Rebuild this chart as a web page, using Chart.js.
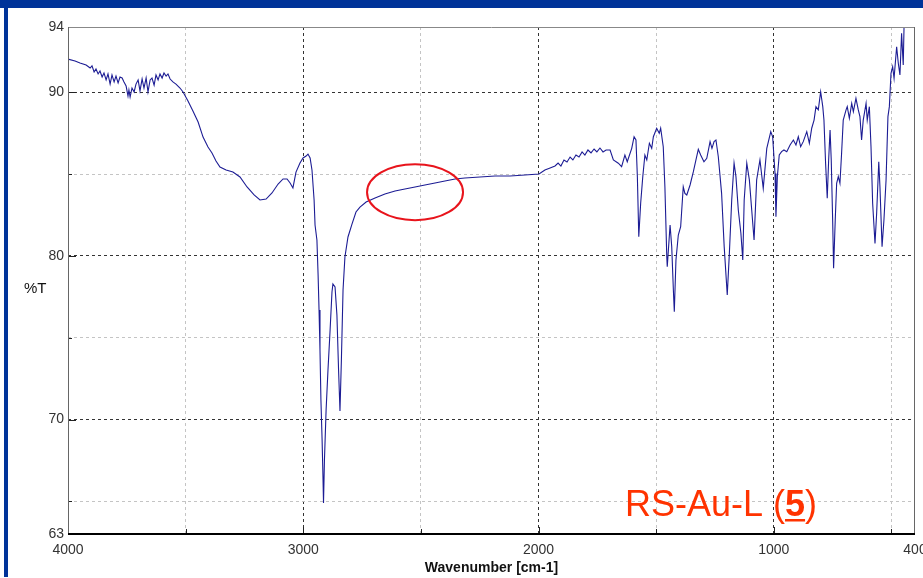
<!DOCTYPE html>
<html><head><meta charset="utf-8">
<script src="https://cdn.jsdelivr.net/npm/chart.js@4.4.0/dist/chart.umd.min.js"></script>
<style>html,body{margin:0;padding:0;background:#fff;overflow:hidden}canvas{display:block}</style>
</head><body>
<canvas id="c" width="923" height="578" style="width:923px;height:578px"></canvas>
<script>
const wavenumbers = [4000,3970,3949,3923,3906,3898,3889,3881,3872,3864,3855,3847,3838,3830,3821,3813,3804,3796,3787,3779,3770,3762,3753,3745,3741,3736,3728,3719,3711,3702,3694,3685,3677,3668,3660,3651,3643,3634,3626,3617,3609,3600,3592,3583,3575,3566,3554,3541,3524,3511,3490,3469,3447,3426,3405,3388,3371,3354,3328,3299,3269,3239,3209,3184,3158,3133,3107,3086,3069,3056,3044,3031,3014,3001,2988,2980,2971,2963,2954,2950,2942,2937,2933,2929,2925,2920,2916,2914,2910,2903,2895,2886,2878,2874,2865,2857,2850,2844,2838,2831,2823,2810,2793,2776,2759,2733,2695,2653,2610,2568,2525,2483,2440,2398,2355,2313,2249,2185,2121,2058,1998,1973,1951,1930,1917,1905,1892,1879,1866,1854,1841,1828,1815,1803,1790,1777,1764,1752,1739,1726,1713,1696,1682,1661,1647,1633,1623,1604,1594,1586,1580,1574,1566,1557,1548,1540,1529,1519,1512,1498,1487,1481,1470,1463,1455,1453,1441,1434,1427,1423,1416,1406,1396,1385,1378,1370,1356,1342,1331,1321,1311,1297,1285,1271,1263,1254,1246,1236,1222,1211,1198,1189,1179,1169,1161,1151,1140,1132,1126,1115,1104,1094,1084,1073,1059,1045,1030,1013,1005,995,991,985,977,967,957,945,931,917,906,896,886,875,860,849,839,829,821,811,801,792,787,780,773,767,761,756,750,746,739,733,726,719,712,705,693,688,679,669,662,651,641,634,627,620,608,603,594,587,580,570,563,554,549,540,532,523,515,509,502,495,489,478,471,464,457,450,446,434,400];
const transmittance = [92.04,91.92,91.80,91.68,91.49,91.62,91.25,91.43,91.13,91.31,90.94,91.19,90.76,91.13,90.51,91.07,90.64,91.00,90.58,90.94,90.88,90.64,90.39,89.78,90.15,89.72,90.27,90.03,90.51,90.76,90.09,90.82,90.27,90.88,90.03,90.76,90.88,90.45,91.07,90.76,91.13,90.88,91.19,91.00,91.13,90.82,90.64,90.51,90.27,90.03,89.48,88.86,88.19,87.27,86.66,86.30,85.81,85.44,85.26,85.13,84.83,84.22,83.73,83.42,83.48,83.85,84.40,84.71,84.71,84.46,84.16,85.13,85.68,85.99,86.11,86.23,85.99,85.26,83.42,81.89,80.98,78.84,76.70,74.25,71.19,68.75,66.30,64.90,67.52,70.58,73.03,75.47,77.80,78.29,78.10,76.39,73.03,70.52,73.64,77.92,79.94,81.16,81.95,82.69,82.99,83.30,83.54,83.79,83.97,84.09,84.22,84.34,84.46,84.58,84.71,84.77,84.83,84.89,84.89,84.95,85.01,85.26,85.38,85.50,85.68,85.50,85.87,85.75,86.05,85.87,86.17,86.05,86.36,86.17,86.48,86.30,86.54,86.36,86.60,86.36,86.48,86.48,85.87,85.67,85.46,86.17,85.76,86.58,87.29,87.09,84.85,81.18,83.22,84.85,86.17,85.87,86.89,86.58,87.29,87.81,87.50,87.81,86.68,84.23,79.95,79.34,81.89,80.57,77.92,76.59,79.75,81.28,81.79,84.23,83.83,83.73,84.34,85.15,85.87,86.52,86.17,85.76,85.97,86.99,86.58,86.99,87.09,86.07,83.83,80.57,77.61,80.16,83.42,85.67,84.85,82.81,81.39,79.75,83.42,85.67,84.65,82.81,80.98,84.65,85.87,84.14,86.58,87.60,87.29,85.05,82.40,84.85,86.17,86.38,86.48,86.38,86.79,87.09,86.79,87.29,86.68,86.99,87.60,86.89,87.81,88.31,89.13,88.93,90.04,89.13,88.31,85.67,83.53,85.87,87.70,85.87,82.20,79.25,82.20,84.44,84.85,84.44,86.28,88.31,88.93,89.13,88.42,89.33,88.82,89.64,88.93,88.52,87.09,88.31,89.33,88.31,89.13,86.68,83.22,80.77,82.61,85.76,84.23,80.57,82.20,84.65,88.52,89.13,91.17,91.57,90.86,92.79,91.78,91.07,93.61,91.68,94.43,95.65,96.90];

const xTickValues = [4000,3500,3000,2500,2000,1500,1000,500,400];
const xTickLabels = [4000,3000,2000,1000,400];
const xMajorGrid = [3000,2000,1000];
const yTickValues = [63,65,70,75,80,85,90,94];
const yTickLabels = [63,70,80,90,94];
const yMajorGrid = [70,80,90];
const xTitle = 'Wavenumber [cm-1]';
const yTitle = '%T';
const sampleName = ['RS-Au-L (', '5', ')'];

const tickFont = {family:"'Liberation Sans',Arial,sans-serif", size:14};
const points = wavenumbers.map((w,i)=>({x:w, y:transmittance[i]}));

function gridColor(v, major, edges){
  if (edges.includes(v)) return 'rgba(0,0,0,0)';
  return major.includes(v) ? '#333333' : '#c4c4c4';
}

const decor = {
  id:'decor',
  beforeDraw(chart){
    const c = chart.ctx;
    c.save();
    c.fillStyle = '#ffffff';
    c.fillRect(0,0,chart.width,chart.height);
    c.fillStyle = 'rgb(0,51,153)';
    c.fillRect(0,0,chart.width,8);
    c.fillRect(4,0,4,chart.height-1);
    c.restore();
  },
  afterDatasetsDraw(chart){
    const c = chart.ctx, a = chart.chartArea;
    const xs = chart.scales.x, ys = chart.scales.y;
    c.save();
    c.strokeStyle = '#222'; c.lineWidth = 1;
    xTickValues.forEach(v=>{
      if (v===4000||v===400) return;
      const px = Math.round(xs.getPixelForValue(v))+0.5;
      const len = xMajorGrid.includes(v)?7:5;
      c.beginPath(); c.moveTo(px,a.bottom); c.lineTo(px,a.bottom-len); c.stroke();
    });
    yTickValues.forEach(v=>{
      if (v===63||v===94) return;
      const py = Math.round(ys.getPixelForValue(v))+0.5;
      const len = yMajorGrid.includes(v)?8:4;
      c.beginPath(); c.moveTo(a.left,py); c.lineTo(a.left+len,py); c.stroke();
    });
    c.lineWidth = 1;
    c.strokeStyle = '#888';
    c.beginPath(); c.moveTo(a.left, a.top+0.5); c.lineTo(a.right, a.top+0.5); c.stroke();
    c.strokeStyle = '#666';
    c.beginPath(); c.moveTo(a.left+0.5, a.top); c.lineTo(a.left+0.5, a.bottom); c.stroke();
    c.beginPath(); c.moveTo(a.right-0.5, a.top); c.lineTo(a.right-0.5, a.bottom); c.stroke();
    c.strokeStyle = '#000'; c.lineWidth = 2;
    c.beginPath(); c.moveTo(a.left, a.bottom); c.lineTo(a.right, a.bottom); c.stroke();
    c.restore();
  },
  afterDraw(chart){
    const c = chart.ctx;
    const xs = chart.scales.x, ys = chart.scales.y;
    c.save();
    c.fillStyle = '#111';
    c.font = "15px 'Liberation Sans', Arial, sans-serif";
    c.textAlign = 'left'; c.textBaseline = 'middle';
    c.fillText(yTitle, 24, 289);
    c.strokeStyle = '#e8141c'; c.lineWidth = 2;
    c.beginPath();
    c.ellipse(xs.getPixelForValue(2525), ys.getPixelForValue(83.9), 48, 28, 0, 0, Math.PI*2);
    c.stroke();
    c.fillStyle = '#ff3300';
    c.textBaseline = 'alphabetic';
    let x = 625; const y = 516;
    c.font = "36px 'Liberation Sans', Arial, sans-serif";
    c.fillText(sampleName[0], x, y); x += c.measureText(sampleName[0]).width;
    c.font = "bold 36px 'Liberation Sans', Arial, sans-serif";
    c.fillText(sampleName[1], x, y);
    const w5 = c.measureText(sampleName[1]).width;
    c.fillRect(x, y+3, w5, 2.5);
    x += w5;
    c.font = "36px 'Liberation Sans', Arial, sans-serif";
    c.fillText(sampleName[2], x, y);
    c.restore();
  }
};

new Chart(document.getElementById('c'), {
  type:'line',
  data:{datasets:[{data:points, borderColor:'#1c1c94', borderWidth:1.1, pointRadius:0, tension:0, fill:false}]},
  options:{
    responsive:false, animation:false, devicePixelRatio:1,
    layout:{padding:{left:0,right:8,top:27,bottom:0}},
    plugins:{legend:{display:false}, tooltip:{enabled:false}},
    scales:{
      x:{
        type:'linear', reverse:true, min:400, max:4000,
        afterBuildTicks:s=>{ s.ticks = xTickValues.map(v=>({value:v})); },
        afterFit:s=>{ s.height = 44; s.paddingLeft = 0; s.paddingRight = 0; },
        grid:{drawTicks:false, lineWidth:1, color:ctx=>gridColor(ctx.tick.value, xMajorGrid, [4000,400])},
        border:{display:false, dash:[3,3]},
        ticks:{autoSkip:false, maxRotation:0, minRotation:0, padding:8, color:'#333', font:tickFont,
          callback:v=>xTickLabels.includes(v)?String(v):''},
        title:{display:true, text:xTitle, color:'#111', font:{family:"'Liberation Sans',Arial,sans-serif", size:14, weight:'bold'}, padding:{top:0,bottom:1}}
      },
      y:{
        type:'linear', min:63, max:94,
        afterBuildTicks:s=>{ s.ticks = yTickValues.map(v=>({value:v})); },
        afterFit:s=>{ s.width = 68; s.paddingTop = 0; s.paddingBottom = 0; },
        grid:{drawTicks:false, lineWidth:1, color:ctx=>gridColor(ctx.tick.value, yMajorGrid, [63,94])},
        border:{display:false, dash:[3,3]},
        ticks:{autoSkip:false, padding:4, color:'#333', font:tickFont,
          callback:v=>yTickLabels.includes(v)?String(v):''}
      }
    }
  },
  plugins:[decor]
});
</script>
</body></html>
